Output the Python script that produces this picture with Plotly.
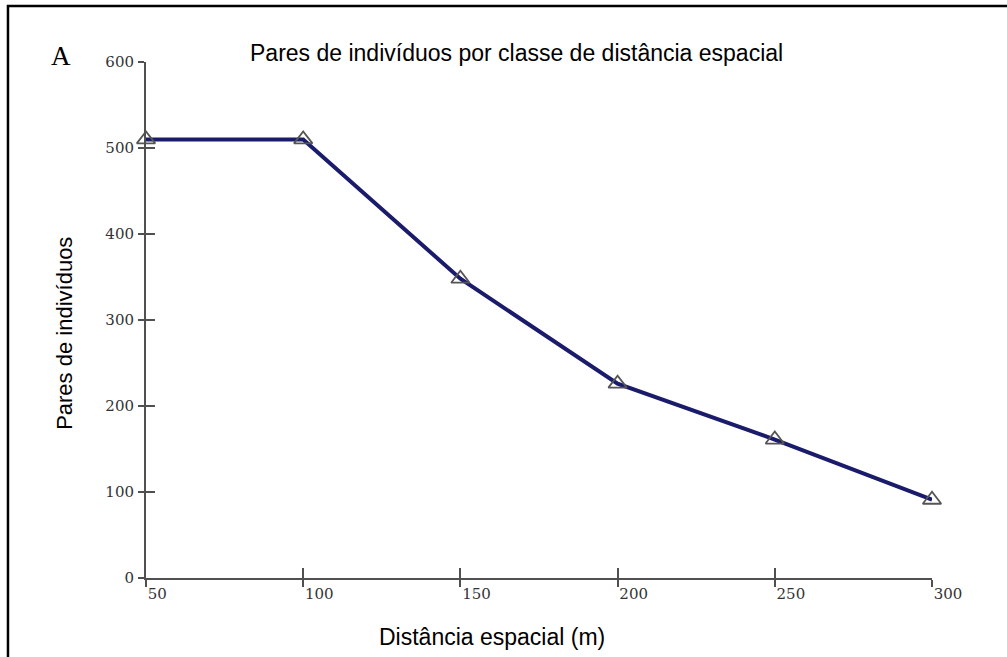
import plotly.graph_objects as go

distancia = [50, 100, 150, 200, 250, 300]
pares = [510, 510, 348, 226, 161, 91]
x_ticks = [50, 100, 150, 200, 250, 300]
y_ticks = [0, 100, 200, 300, 400, 500, 600]

title_text = "Pares de indivíduos por classe de distância espacial"
x_title = "Distância espacial (m)"
y_title = "Pares de indivíduos"
panel_label = "A"

axis_col = "#505050"
tick_font = dict(family="DejaVu Serif", size=15, color="#333333")

fig = go.Figure()
fig.add_trace(go.Scatter(
    x=distancia, y=pares, mode="lines+markers",
    line=dict(color="#1b1b6b", width=4),
    marker=dict(symbol="triangle-up-open", size=16, color="#555555",
                line=dict(width=1.8, color="#555555")),
    cliponaxis=False, showlegend=False, hoverinfo="x+y",
))
# invisible trace to host the overlay axes (inside tick marks)
fig.add_trace(go.Scatter(
    x=distancia, y=pares, mode="markers", xaxis="x2", yaxis="y2",
    marker=dict(opacity=0), showlegend=False, hoverinfo="skip",
))

fig.update_layout(
    width=1007, height=657,
    margin=dict(l=146, r=75, t=62, b=79),
    paper_bgcolor="white", plot_bgcolor="white",
    xaxis=dict(range=[50, 300], tickvals=x_ticks, ticktext=[str(v) for v in x_ticks],
               showgrid=False, zeroline=False, showline=True, linecolor=axis_col, linewidth=2,
               ticks="outside", ticklen=7, tickwidth=1.5, tickcolor=axis_col,
               tickfont=tick_font, ticklabelposition="outside right", ticklabelstandoff=1),
    yaxis=dict(range=[0, 600], tickvals=y_ticks, ticktext=[str(v) for v in y_ticks],
               showgrid=False, zeroline=False, showline=True, linecolor=axis_col, linewidth=2,
               ticks="outside", ticklen=6, tickwidth=1.5, tickcolor=axis_col,
               tickfont=tick_font, ticklabelstandoff=1),
    xaxis2=dict(range=[50, 300], tickvals=x_ticks, overlaying="x", anchor="y2", side="bottom",
                showgrid=False, zeroline=False, showline=False, showticklabels=False,
                ticks="inside", ticklen=10, tickwidth=1.5, tickcolor=axis_col),
    yaxis2=dict(range=[0, 600], tickvals=y_ticks, overlaying="y", anchor="x2", side="left",
                showgrid=False, zeroline=False, showline=False, showticklabels=False,
                ticks="inside", ticklen=9, tickwidth=1.5, tickcolor=axis_col),
    shapes=[dict(type="rect", xref="paper", yref="paper",
                 x0=-0.1756, x1=1.2, y0=-0.25, y1=1.1085,
                 line=dict(color="black", width=2.5), fillcolor="rgba(0,0,0,0)", layer="above")],
    annotations=[
        dict(text=title_text, xref="paper", yref="paper", x=0.472, y=1.0174,
             xanchor="center", yanchor="middle", showarrow=False,
             font=dict(family="Liberation Sans", size=23, color="black")),
        dict(text=x_title, xref="paper", yref="paper", x=0.440, y=-0.1143,
             xanchor="center", yanchor="middle", showarrow=False,
             font=dict(family="Liberation Sans", size=23, color="black")),
        dict(text=y_title, xref="paper", yref="paper", x=-0.1045, y=0.4748,
             xanchor="center", yanchor="middle", showarrow=False, textangle=-90,
             font=dict(family="Liberation Sans", size=22, color="black")),
        dict(text=panel_label, xref="paper", yref="paper", x=-0.108, y=1.0116,
             xanchor="center", yanchor="middle", showarrow=False,
             font=dict(family="Liberation Serif", size=27, color="black")),
    ],
)

fig.write_html("out.html")
